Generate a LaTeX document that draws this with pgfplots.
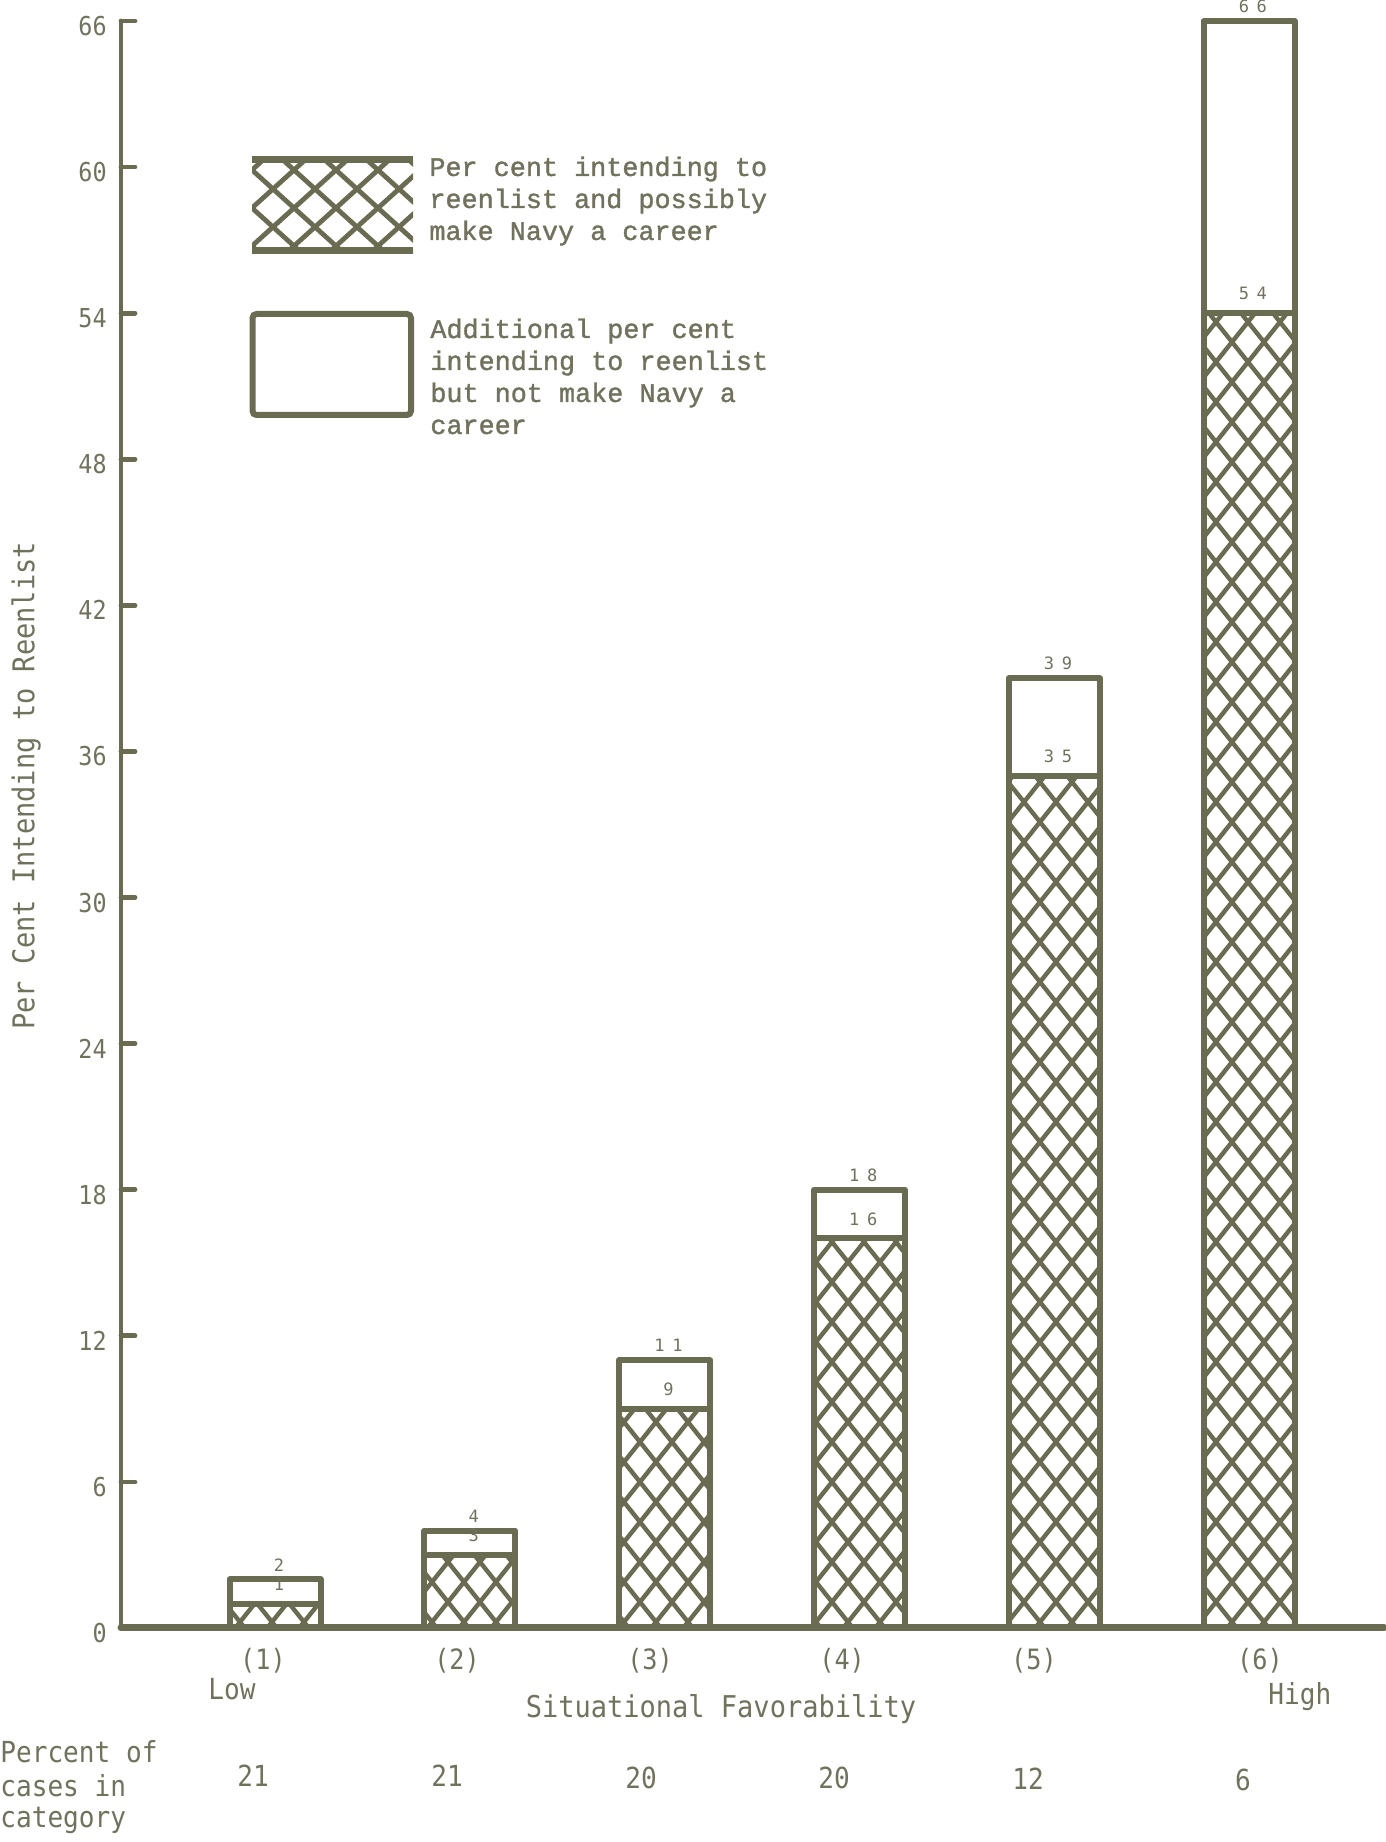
\documentclass[border=0pt]{standalone}
\usepackage{fontspec}
\usepackage{pgfplots}
\pgfplotsset{compat=1.18}
\usepackage{pgfplotstable}
\usetikzlibrary{patterns}
\setmainfont{DejaVu Sans Mono}
\newfontfamily\gothic[FakeStretch=0.9]{DejaVu Sans Mono}
\newfontfamily\gothicsp[LetterSpace=45]{DejaVu Sans Mono}
\newfontfamily\typew[FakeBold=1.3]{Liberation Mono}
\definecolor{ink}{RGB}{106,108,82}
\definecolor{textc}{RGB}{112,114,92}

\pgfdeclarepatternformonly{bardiam}{\pgfpoint{-2pt}{-2pt}}{\pgfpoint{18pt}{22pt}}{\pgfpoint{16pt}{20pt}}{%
  \pgfsetlinewidth{2.2pt}\pgfsetroundcap
  \pgfpathmoveto{\pgfpoint{0pt}{0pt}}\pgfpathlineto{\pgfpoint{16pt}{20pt}}%
  \pgfpathmoveto{\pgfpoint{0pt}{20pt}}\pgfpathlineto{\pgfpoint{16pt}{0pt}}%
  \pgfusepath{stroke}}
\pgfdeclarepatternformonly{legdiam}{\pgfpoint{-2pt}{-2pt}}{\pgfpoint{23pt}{21pt}}{\pgfpoint{21pt}{19pt}}{%
  \pgfsetlinewidth{2.4pt}\pgfsetroundcap
  \pgfpathmoveto{\pgfpoint{0pt}{0pt}}\pgfpathlineto{\pgfpoint{21pt}{19pt}}%
  \pgfpathmoveto{\pgfpoint{0pt}{19pt}}\pgfpathlineto{\pgfpoint{21pt}{0pt}}%
  \pgfusepath{stroke}}

\pgfplotstableread{
x hatch add total
1 1 1 2
2 3 1 4
3 9 2 11
4 16 2 18
5 35 4 39
6 54 12 66
}\datatable

\begin{document}
\begin{tikzpicture}
\path[use as bounding box] (0,0) rectangle (693pt,921pt);
\begin{axis}[
  at={(60.5pt,107pt)}, anchor=south west,
  scale only axis, width=631.5pt, height=803.5pt,
  xmin=0.209, xmax=6.693, ymin=0, ymax=66,
  clip=false,
  ybar stacked, bar width=45.5pt,
  axis x line=bottom, axis y line=left,
  x axis line style={-, draw=ink, line width=3.5pt, line cap=round},
  y axis line style={-, draw=ink, line width=2.4pt, line cap=round},
  ytick={0,6,...,66},
  minor tick num=0,
  tick align=inside, major tick length=7pt,
  ytick style={draw=ink, line width=2.4pt, line cap=round},
  xtick={0.938,1.934,2.925,3.911,4.896,6.056},
  xticklabels={(1),(2),(3),(4),(5),(6)},
  xtick style={draw=none},
  /pgf/number format/assume math mode=true,
  yticklabel style={font=\gothic\fontsize{13}{13}\selectfont, text=textc, anchor=east, inner sep=0pt, xshift=-7pt, yshift=-2.5pt},
  xticklabel style={font=\gothic\fontsize{14}{14}\selectfont, text=textc, anchor=center, yshift=-16.5pt},
  point meta=explicit symbolic,
  nodes near coords,
  nodes near coords style={font=\gothicsp\fontsize{8.5}{8.5}\selectfont, text=textc, anchor=south, inner sep=0pt, xshift=1.9pt},
]
\addplot[draw=ink, line width=3pt, line join=round, pattern=bardiam, pattern color=ink,
  visualization depends on={\thisrow{hatch} \as \segh},
  nodes near coords style={yshift={\segh*6.0871pt+5pt}}] table[x=x,y=hatch,meta=hatch] \datatable;
\addplot[draw=ink, line width=3pt, line join=round, fill=none,
  visualization depends on={\thisrow{add} \as \segh},
  nodes near coords style={yshift={\segh*6.0871pt+2.6pt}}] table[x=x,y=add,meta=total] \datatable;
\end{axis}

\begin{scope}[yshift=921pt, x=0.5pt, y=-0.5pt]
  % legend
  \fill[pattern=legdiam, pattern color=ink] (252,157) rectangle (413,254);
  \draw[ink, line width=3.5pt] (252,160) -- (413,160) (252,251) -- (413,251);
  \draw[ink, line width=3pt, rounded corners=2pt] (252.5,314) rectangle (411,415);
  \begin{scope}[every node/.style={anchor=base west, inner sep=0pt, text=textc, font=\typew\fontsize{13.4}{16}\selectfont}]
    \node at (429,176) {Per cent intending to};
    \node at (429,208) {reenlist and possibly};
    \node at (429,240) {make Navy a career};
    \node at (430,338) {Additional per cent};
    \node at (430,370) {intending to reenlist};
    \node at (430,402) {but not make Navy a};
    \node at (430,434) {career};
  \end{scope}
  % axis labels and notes
  \node[rotate=90, text=textc, inner sep=0pt, font=\gothic\fontsize{15}{15}\selectfont] at (26,786) {Per Cent Intending to Reenlist};
  \begin{scope}[every node/.style={inner sep=0pt, text=textc, font=\gothic\fontsize{14.5}{14.5}\selectfont}]
    \node[anchor=base west] at (208,1700) {Low};
    \node[anchor=base west] at (1268,1705) {High};
    \node[anchor=base, font=\gothic\fontsize{15}{15}\selectfont] at (721,1718) {Situational Favorability};
    \node[anchor=base west] at (0,1763) {Percent of};
    \node[anchor=base west] at (0,1796) {cases in};
    \node[anchor=base west] at (0,1828) {category};
    \node[anchor=base] at (253,1787) {21};
    \node[anchor=base] at (447,1787) {21};
    \node[anchor=base] at (641,1788) {20};
    \node[anchor=base] at (834,1788) {20};
    \node[anchor=base] at (1028,1790) {12};
    \node[anchor=base] at (1243,1791) {6};
  \end{scope}
\end{scope}
\end{tikzpicture}
\end{document}
